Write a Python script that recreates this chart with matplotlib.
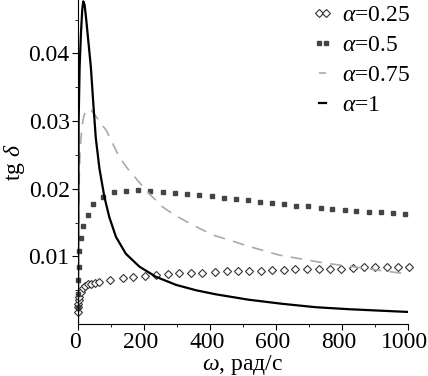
import matplotlib
matplotlib.use("Agg")
import matplotlib.pyplot as plt
from matplotlib.ticker import FixedLocator
from matplotlib.transforms import ScaledTranslation

plt.rcParams['font.family'] = ['Liberation Serif', 'DejaVu Serif']
plt.rcParams['mathtext.fontset'] = 'custom'
plt.rcParams['mathtext.rm'] = 'Liberation Serif'
plt.rcParams['mathtext.it'] = 'Liberation Serif:italic'

# alpha = 0.25 (diamonds)
w_025 = [0.2, 0.6, 1.2, 2, 4, 8, 14, 21, 29, 39, 52, 65, 98, 135, 168, 203, 236, 274,
         307, 342, 376, 415, 452, 486, 519, 556, 588, 624, 658, 694, 729, 763, 796,
         832, 868, 900, 936, 971, 1003]
v_025 = [0.0018, 0.0025, 0.0030, 0.0035, 0.0040, 0.0048, 0.0053, 0.0056, 0.0059, 0.0060,
         0.0061, 0.0062, 0.0065, 0.0068, 0.0070, 0.0071, 0.0073, 0.0074, 0.0075, 0.0076,
         0.0076, 0.0077, 0.0078, 0.0078, 0.0079, 0.0079, 0.0080, 0.0080, 0.0081, 0.0081,
         0.0081, 0.0082, 0.0082, 0.0083, 0.0084, 0.0084, 0.0084, 0.0085, 0.0085]

# alpha = 0.5 (squares)
w_05 = [0.3, 0.8, 1.5, 2.5, 4, 9, 16, 29, 46, 75, 110, 146, 183, 219, 258, 295, 331,
        368, 406, 443, 479, 516, 552, 589, 625, 662, 698, 735, 771, 808, 844, 881, 917,
        954, 990]
v_05 = [0.0025, 0.0045, 0.0065, 0.0085, 0.0108, 0.0128, 0.0145, 0.0161, 0.0177, 0.0188,
        0.0195, 0.0197, 0.0198, 0.0197, 0.0195, 0.0194, 0.0192, 0.0191, 0.0189, 0.0187,
        0.0185, 0.0183, 0.0181, 0.0179, 0.0177, 0.0175, 0.0174, 0.0172, 0.0170, 0.0169,
        0.0167, 0.0166, 0.0165, 0.0164, 0.0162]

# alpha = 0.75 (dashed grey)
w_075 = [0, 0.5, 1, 2, 4, 6, 9, 13, 18, 24, 30, 34, 40, 50, 60, 70, 85, 100, 125, 150,
         171, 211, 257, 290, 327, 370, 413, 460, 510, 560, 610, 680, 750, 830, 920, 1000]
v_075 = [0.0, 0.006, 0.011, 0.017, 0.022, 0.025, 0.0275, 0.0295, 0.0308, 0.0315, 0.0318,
         0.0318, 0.0316, 0.0310, 0.0303, 0.0296, 0.0287, 0.0272, 0.0247, 0.0230, 0.0218,
         0.0195, 0.0173, 0.0162, 0.0152, 0.0141, 0.0131, 0.0124, 0.0116, 0.0109, 0.0102,
         0.0096, 0.0090, 0.0085, 0.0079, 0.0074]

# alpha = 1 (solid black)
w_1 = [0, 1, 2, 5, 9, 13, 16, 20, 25, 29, 34, 39, 47, 54, 65, 80, 95, 115, 145, 186,
       236, 297, 358, 418, 518, 619, 720, 822, 910, 1000]
v_1 = [0.0, 0.016, 0.030, 0.038, 0.043, 0.0465, 0.0477, 0.0472, 0.045, 0.043, 0.0405,
       0.038, 0.0322, 0.0275, 0.0230, 0.0188, 0.0158, 0.0129, 0.0104, 0.0085, 0.0070,
       0.0058, 0.0050, 0.0044, 0.0036, 0.0030, 0.0025, 0.0022, 0.0020, 0.0018]

labels = [r'$\alpha$=0.25', r'$\alpha$=0.5', r'$\alpha$=0.75', r'$\alpha$=1']
x_ticks = [0, 200, 400, 600, 800, 1000]
x_minor = [100, 300, 500, 700, 900]
y_ticks = [0.01, 0.02, 0.03, 0.04]
y_minor = [0.005, 0.015, 0.025, 0.035, 0.045]
y_ticklabels = ['0.01', '0.02', '0.03', '0.04']
x_ticklabels = ['0', '200', '400', '600', '800', '1000']

fig = plt.figure(figsize=(4.28, 3.76), dpi=100)
ax = fig.add_axes([0.1822, 0.138, 0.771, 0.862])

ax.plot(w_025, v_025, linestyle='none', marker='D', markersize=3.6,
        markerfacecolor='white', markeredgecolor='#333333', markeredgewidth=0.8,
        label=labels[0], clip_on=False)
ax.plot(w_05, v_05, linestyle='none', marker='s', markersize=3,
        color='#444444', label=labels[1], clip_on=False)
ax.plot(w_075, v_075, linestyle=(0, (7, 5)), color='#aaaaaa', lw=1.2, label=labels[2])
ax.plot(w_1, v_1, color='black', lw=1.6, label=labels[3])

ax.set_xlim(0, 1000)
ax.set_ylim(0, 0.0479)
ax.set_xticks(x_ticks)
ax.set_xticklabels(x_ticklabels)
ax.xaxis.set_minor_locator(FixedLocator(x_minor))
ax.set_yticks(y_ticks)
ax.set_yticklabels(y_ticklabels)
ax.yaxis.set_minor_locator(FixedLocator(y_minor))
ax.tick_params(axis='both', which='major', labelsize=17, length=4, width=0.8, pad=2)
ax.tick_params(axis='both', which='minor', length=2, width=0.6)
for s in ['top', 'right']:
    ax.spines[s].set_visible(False)
for s in ['left', 'bottom']:
    ax.spines[s].set_linewidth(0.8)

shift = ScaledTranslation(-3 / 100, 0, fig.dpi_scale_trans)
for lab in ax.get_xticklabels():
    lab.set_transform(lab.get_transform() + shift)

ax.set_xlabel(r'$\omega$, рад/с', fontsize=17, labelpad=0)
ax.set_ylabel(r'tg $\delta$', fontsize=17, labelpad=1)

leg = ax.legend(loc='upper right', bbox_to_anchor=(1.048, 1.03), frameon=False,
                fontsize=17, numpoints=2, handlelength=0.9, handletextpad=0.35,
                labelspacing=0.36, borderaxespad=0.2)

fig.savefig('out.png', dpi=100)
